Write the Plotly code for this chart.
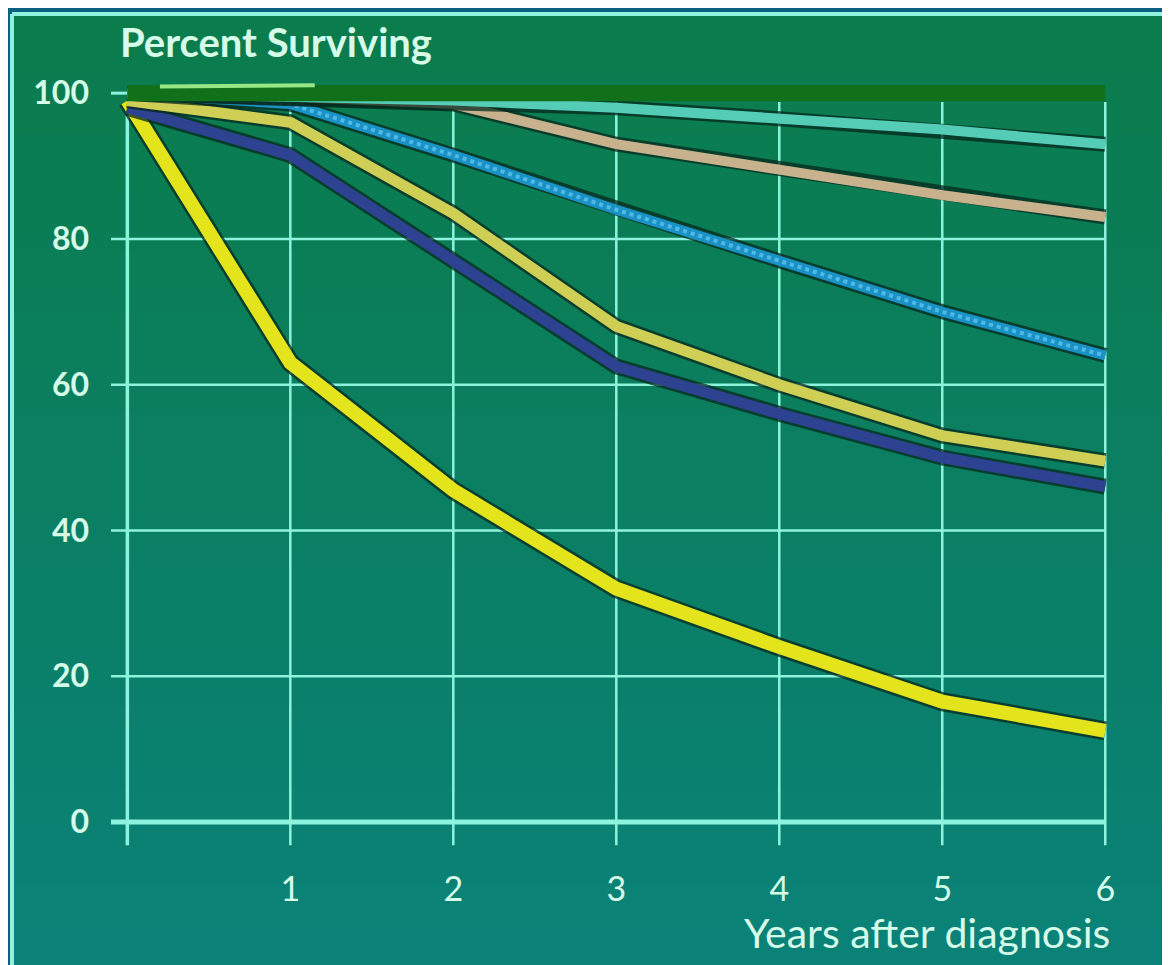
import plotly.graph_objects as go

# ---- data ----
years = [0, 1, 2, 3, 4, 5, 6]

flat_green = [100, 100, 100, 100, 100, 100, 100]
teal = [100, 99.5, 99, 98, 96.5, 95, 93]
tan = [100, 99.5, 98.5, 93, 89.5, 86, 83]
dotted_blue = [100, 98.5, 91.5, 84, 77, 70, 64]
khaki = [99, 96, 83.5, 68, 60, 53, 49.5]
dark_blue = [98, 91.5, 77, 62.5, 56, 50, 46]
yellow = [99, 63, 45.5, 32, 24, 16.5, 12.5]

highlight_x = [0.2, 1.15]
highlight_y = [100.9, 101.1]

y_ticks = [0, 20, 40, 60, 80, 100]
y_tick_text = ["0", "20", "40", "60", "80", "100"]
x_ticks = [1, 2, 3, 4, 5, 6]

GRID = "#8ef3dc"
TEXT = "#d6fbe9"
FONT = "Lato"

W, H = 1170, 965
OFF = 8  # page body margin
M_L, M_R, M_T, M_B = 90, 32, 56, 111
PW, PH = W - M_L - M_R, H - M_T - M_B


def px(x):
    # page pixel -> plot-area paper fraction
    return (x - OFF - M_L) / PW


def py(y):
    return (H - M_B - (y - OFF)) / PH


fig = go.Figure()

# gradient panel: green at top, teal at bottom
top_rgb = (11, 124, 76)
bot_rgb = (10, 130, 120)
bands = 48
for i in range(bands):
    t = i / (bands - 1)
    c = tuple(round(a + (b - a) * t) for a, b in zip(top_rgb, bot_rgb))
    ya = 14 + (H - 14) * i / bands
    yb = 14 + (H - 14) * (i + 1) / bands + 2
    fig.add_shape(type="rect", xref="paper", yref="paper", layer="below",
                  x0=px(12), x1=px(W + 20), y0=py(yb + 20), y1=py(ya),
                  fillcolor="rgb(%d,%d,%d)" % c, line_width=0)

# panel border
fig.add_shape(type="line", xref="paper", yref="paper", layer="below",
              x0=px(12), x1=px(12), y0=py(H + 20), y1=py(14),
              line=dict(color=GRID, width=4))
fig.add_shape(type="line", xref="paper", yref="paper", layer="below",
              x0=px(12), x1=px(W + 20), y0=py(14), y1=py(14),
              line=dict(color=GRID, width=4))

# grid lines and axes
for v in y_ticks[1:-1]:
    fig.add_shape(type="line", xref="x", yref="y", layer="below",
                  x0=-0.1, x1=6, y0=v, y1=v, line=dict(color=GRID, width=2.5))
fig.add_shape(type="line", xref="x", yref="y", layer="below",
              x0=-0.1, x1=0, y0=100, y1=100, line=dict(color=GRID, width=3))
for v in x_ticks:
    fig.add_shape(type="line", xref="x", yref="y", layer="below",
                  x0=v, x1=v, y0=-3.2, y1=98.8, line=dict(color=GRID, width=2.5))
fig.add_shape(type="line", xref="x", yref="y", layer="below",
              x0=0, x1=0, y0=-3.2, y1=98.5, line=dict(color=GRID, width=3.5))
fig.add_shape(type="line", xref="x", yref="y", layer="below",
              x0=-0.1, x1=6, y0=0, y1=0, line=dict(color=GRID, width=5))


def add_line(y, color, width, shadow=True, dash=None):
    if shadow:
        fig.add_trace(go.Scatter(x=years, y=y, mode="lines", hoverinfo="skip",
                                 line=dict(color="rgba(5,40,30,0.75)", width=width + 5)))
    fig.add_trace(go.Scatter(x=years, y=y, mode="lines",
                             line=dict(color=color, width=width, dash=dash)))


add_line(yellow, "#e4e41c", 14)
add_line(dark_blue, "#2d4290", 11)
add_line(khaki, "#cfcf55", 11)
add_line(dotted_blue, "#1b92c6", 10)
fig.add_trace(go.Scatter(x=years, y=dotted_blue, mode="lines", hoverinfo="skip",
                         line=dict(color="#4fb9e6", width=4, dash="dot")))
add_line(tan, "#c8b28e", 10)
add_line(teal, "#55cdb6", 10)
add_line(flat_green, "#11701a", 16, shadow=False)
fig.add_trace(go.Scatter(x=highlight_x, y=highlight_y, mode="lines",
                         line=dict(color="#95e884", width=4)))

fig.add_annotation(text="<b>Percent Surviving</b>", xref="paper", yref="paper",
                   x=px(118), y=py(42), xanchor="left", yanchor="middle",
                   showarrow=False, font=dict(family=FONT, size=40, color=TEXT))
fig.add_annotation(text="Years after diagnosis", xref="paper", yref="paper",
                   x=px(1112), y=py(932), xanchor="right", yanchor="middle",
                   showarrow=False, font=dict(family=FONT, size=41, color=TEXT))

fig.update_layout(
    width=W, height=H,
    paper_bgcolor="#0c5f7e",
    plot_bgcolor="rgba(0,0,0,0)",
    margin=dict(l=M_L, r=M_R, t=M_T, b=M_B),
    showlegend=False,
    font=dict(family=FONT, color=TEXT),
    xaxis=dict(range=[-0.18, 6.25], showgrid=False, zeroline=False, showline=False,
               tickvals=x_ticks, ticks="", tickfont=dict(size=34, color=TEXT),
               ticklabelstandoff=4, fixedrange=True, automargin=False),
    yaxis=dict(range=[-5.5, 104], showgrid=False, zeroline=False, showline=False,
               tickvals=y_ticks, ticktext=["<b>%s</b>" % t for t in y_tick_text],
               ticks="", tickfont=dict(size=32, color=TEXT),
               ticklabelstandoff=8, fixedrange=True, automargin=False),
)

fig.write_html("out.html")
